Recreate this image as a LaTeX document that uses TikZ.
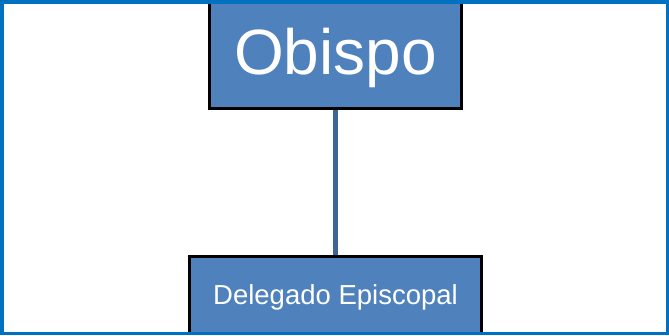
\documentclass[tikz,border=0pt]{standalone}
\usepackage{fontspec}
\setmainfont{Liberation Sans}
\definecolor{boxblue}{HTML}{4F81BD}
\definecolor{linkblue}{HTML}{3D6599}
\definecolor{framblue}{HTML}{0070C0}
\begin{document}
\begin{tikzpicture}[x=1pt,y=-1pt,
  orgbox/.style={draw=black,line width=2pt,fill=boxblue,text=white,inner sep=0pt,text depth=0pt,align=center},
  link/.style={draw=linkblue,line width=5pt}]
\useasboundingbox (0,0) rectangle (669,335);
\begin{scope}
\clip (0,0) rectangle (669,335);
\node[orgbox,minimum width=251pt,minimum height=113pt,text height=45.8pt,font=\fontsize{64}{70}\selectfont] (obispo) at (335.5,51.5) {Obispo};
\node[orgbox,minimum width=291pt,minimum height=76pt,text height=19.7pt,font=\fontsize{27.5}{32}\selectfont] (delegado) at (335.5,295) {Delegado Episcopal};
\draw[link] (obispo.south) -- (delegado.north);
\draw[draw=black,line width=2pt] (obispo.south west) rectangle (obispo.north east);
\draw[draw=black,line width=2pt] (delegado.south west) rectangle (delegado.north east);
\end{scope}
\draw[framblue,line width=3.5pt] (1.75,1.75) rectangle (667.25,333.25);
\end{tikzpicture}
\end{document}
